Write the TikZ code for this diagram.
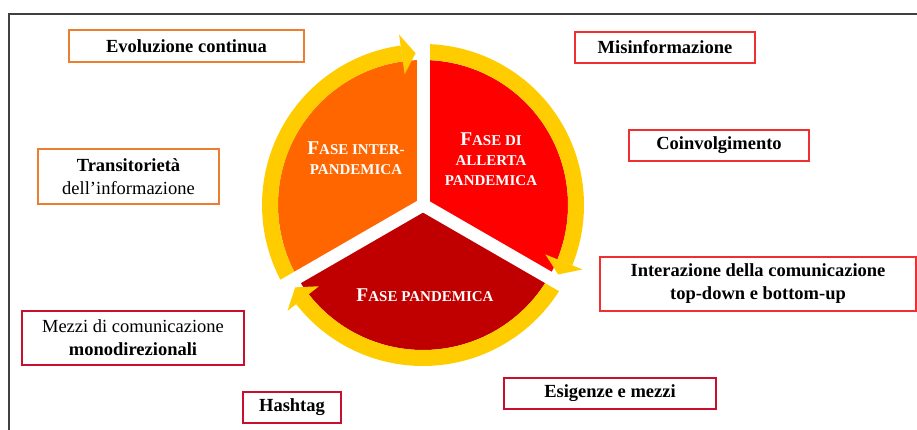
\documentclass[tikz,border=0pt]{standalone}
\usepackage{fontspec}
\setmainfont{Liberation Serif}
\usetikzlibrary{calc}
\definecolor{ringY}{HTML}{FFCC00}
\definecolor{secO}{HTML}{FF6600}
\definecolor{secR}{HTML}{FF0000}
\definecolor{secD}{HTML}{C00000}
\definecolor{bOr}{HTML}{ED7D31}
\definecolor{bRa}{HTML}{F03030}
\definecolor{bRb}{HTML}{C8102E}
\definecolor{frameC}{HTML}{404040}
\newcommand\scBig[1]{{\fontsize{19.5}{20}\selectfont #1}}
\newcommand\scSm[1]{{\fontsize{15}{20}\selectfont #1}}
\begin{document}
\begin{tikzpicture}[x=1pt,y=1pt,
  box/.style={draw, line width=1.5pt, minimum height=31pt, inner sep=0pt, align=center,
    font=\fontsize{18.5}{23}\selectfont},
  phase/.style={text=white, align=center, font=\bfseries\fontsize{15}{20}\selectfont},
  ring/.style={draw=ringY, line width=16pt},
  gap/.style={draw=white, line width=13pt},
  head/.style={fill=ringY}]
\useasboundingbox (0,0) rectangle (917,430);
% frame
\draw[frameC, line width=1.5pt] (9,0) -- (9,416) -- (917,416);
\coordinate (C) at (423,225);
% sectors
\fill[secO] (C) -- ++(90:145) arc[start angle=90, end angle=210, radius=145] -- cycle;
\fill[secR] (C) -- ++(-30:145) arc[start angle=-30, end angle=90, radius=145] -- cycle;
\fill[secD] (C) -- ++(210:145) arc[start angle=210, end angle=330, radius=145] -- cycle;
% ring arcs
\draw[ring] (C) ++(210:153) arc[start angle=210, end angle=98, radius=153];
\draw[ring] (C) ++(90:153) arc[start angle=90, end angle=-22, radius=153];
\draw[ring] (C) ++(-30:153) arc[start angle=-30, end angle=-142, radius=153];
% gaps
\draw[gap] (C) -- ++(90:185);
\draw[gap] (C) -- ++(-30:185);
\draw[gap] (C) -- ++(210:185);
% arrowheads
\fill[head] ($(C)+(98:132)$) -- ($(C)+(98:172)$) -- ($(C)+(92.8:152)$) -- cycle;
\fill[head] ($(C)+(-22:132)$) -- ($(C)+(-22:172)$) -- ($(C)+(-27.2:152)$) -- cycle;
\fill[head] ($(C)+(-142:132)$) -- ($(C)+(-142:172)$) -- ($(C)+(-147.2:152)$) -- cycle;
% phase labels
\node[phase] (pInter) at (356,272) {\scBig{F}\scSm{ASE INTER-}\\\scSm{PANDEMICA}};
\node[phase] (pAll) at (491,271) {\scBig{F}\scSm{ASE DI}\\\scSm{ALLERTA}\\\scSm{PANDEMICA}};
\node[phase] (pPan) at (425,135) {\scBig{F}\scSm{ASE PANDEMICA}};
% boxes
\node[box, draw=bOr, minimum width=235pt, minimum height=32pt] (evo) at (186.5,384) {\textbf{Evoluzione continua}};
\node[box, draw=bOr, minimum width=181pt, minimum height=55pt] (trans) at (128.5,253.5) {\textbf{Transitorietà}\\dell’informazione};
\node[box, draw=bRa, minimum width=180pt] (misinf) at (665,382.5) {\textbf{Misinformazione}};
\node[box, draw=bRa, minimum width=180pt] (coinv) at (719,284.5) {\textbf{Coinvolgimento}};
\node[box, draw=bRa, minimum width=316pt, minimum height=54pt] (inter) at (758,146) {\textbf{Interazione della comunicazione}\\\textbf{top-down e bottom-up}};
\node[box, draw=bRb, minimum width=212pt] (esig) at (610,36.5) {\textbf{Esigenze e mezzi}};
\node[box, draw=bRb, minimum width=222pt, minimum height=54pt] (mezzi) at (133,92) {Mezzi di comunicazione\\\textbf{monodirezionali}};
\node[box, draw=bRb, minimum width=98pt] (hash) at (292,22.5) {\textbf{Hashtag}};
\end{tikzpicture}
\end{document}
